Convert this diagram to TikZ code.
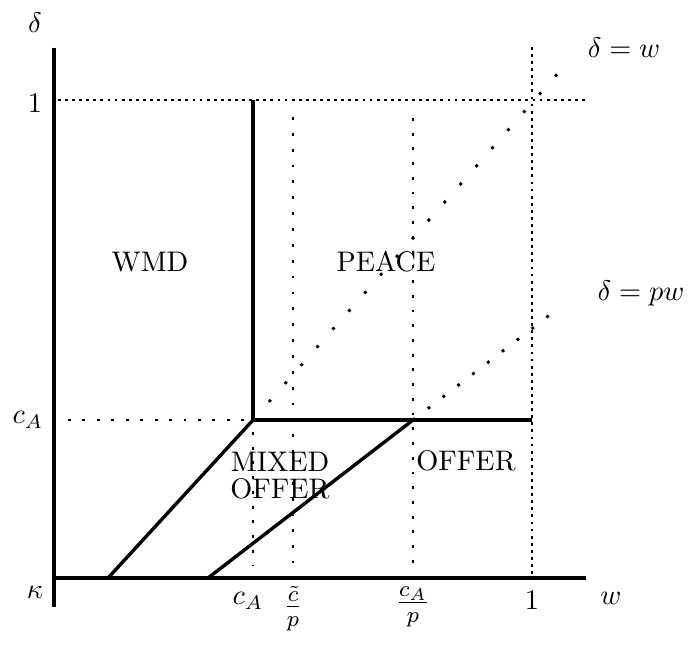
\documentclass[tikz,border=0pt]{standalone}
\usepackage{amsmath}
\usepackage{amssymb}
\usepackage{tikz}
\usetikzlibrary{positioning}

\begin{document}
\begin{tikzpicture}[x=0.353pt,y=-0.353pt,line width=1.2pt,
    dots/.style={line width=1pt,dash pattern=on 1pt off #1}]
    \useasboundingbox (0,0) rectangle (694,644);
    % corners and kinks
    \coordinate (o) at (54,578);
    \coordinate (ytop) at (54,48);
    \coordinate (ybot) at (54,607);
    \coordinate (xend) at (586,578);
    \coordinate (k) at (253,420);
    \coordinate (kt) at (253,100);
    \coordinate (m) at (413,420);
    \coordinate (r) at (532,420);

    % axes
    \draw (ytop) -- (ybot);
    \draw (o) -- (xend);

    % borders of the regions
    \draw (kt) -- (k) -- (r);
    \draw (108,578) -- (k);
    \draw (208,578) -- (m);

    % guide lines
    \draw[dots=1.5pt] (58,100) -- (587,100);
    \draw[dots=4.1pt] (68,420) -- (k);
    \draw[dots=1.5pt] (532,47) -- (532,578);
    \draw[dots=4.2pt] (253,432) -- (253,565);
    \draw[dots=4.6pt] (293,117) -- (293,563);
    \draw[dots=4.2pt] (413,118) -- (m) -- (413,565);
    \draw[dots=7.5pt] (k) -- (560,71);
    \draw[dots=5.6pt] (m) -- (560,307);

    % axis labels
    \node (delta) at (35,23) {$\delta$};
    \node (one) at (35,103) {$1$};
    \node (cAy) at (28,420) {$c_A$};
    \node (kappa) at (35,592) {$\kappa$};
    \node (cAx) at (248,601) {$c_A$};
    \node[font=\large] (ctp) at (293,609) {$\frac{\tilde c}{p}$};
    \node[font=\large] (cAp) at (413,607) {$\frac{c_A}{p}$};
    \node (onex) at (532,600) {$1$};
    \node (w) at (611,598) {$w$};
    \node (dw) at (624,48) {$\delta = w$};
    \node (dpw) at (641,293) {$\delta = pw$};

    % regions
    \node (wmd) at (150,262) {WMD};
    \node (peace) at (386,262) {PEACE};
    \node[align=center] (mixed) at (280,476) {MIXED\\[-2.5pt]OFFER};
    \node (offer) at (466,461) {OFFER};
\end{tikzpicture}
\end{document}
